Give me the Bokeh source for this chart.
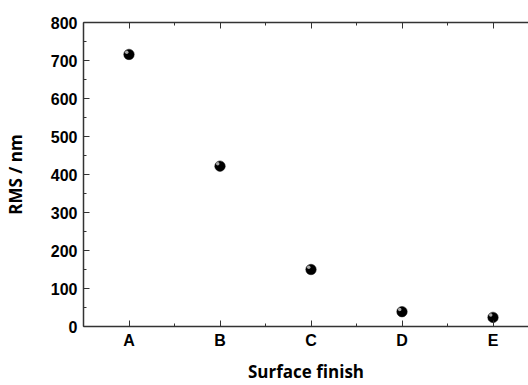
from bokeh.plotting import figure
from bokeh.models import Range1d, FixedTicker, LinearAxis
from bokeh.transform import dodge
from bokeh.embed import file_html
from bokeh.resources import INLINE

categories = ["A", "B", "C", "D", "E"]
rms = [716, 422, 150, 39, 24]
y_ticks = [0, 100, 200, 300, 400, 500, 600, 700, 800]

xs = list(range(1, len(categories) + 1))

p = figure(width=528, height=385, output_backend="svg", toolbar_location=None,
           x_range=Range1d(0.5, 5.39), y_range=Range1d(0, 800),
           x_axis_location=None, y_axis_location=None,
           min_border_left=83, min_border_right=0, min_border_top=22, min_border_bottom=55)
p.grid.visible = False
p.outline_line_color = None
p.background_fill_color = "white"

tick_font = "Liberation Sans"
axis_col = "#333333"
minor_x = [x - 0.5 for x in xs] + [5.5]

xb = LinearAxis(ticker=FixedTicker(ticks=xs, minor_ticks=minor_x),
                major_label_overrides={x: c for x, c in zip(xs, categories)})
xt = LinearAxis(ticker=FixedTicker(ticks=xs, minor_ticks=minor_x),
                major_label_overrides={x: "" for x in xs})
yl = LinearAxis(ticker=FixedTicker(ticks=y_ticks, minor_ticks=[t + 50 for t in y_ticks[:-1]]))

for ax in (xb, xt, yl):
    ax.axis_line_color = axis_col
    ax.axis_line_width = 1.5
    ax.major_tick_line_color = axis_col
    ax.minor_tick_line_color = axis_col
    ax.major_tick_in = 6
    ax.major_tick_out = 0
    ax.minor_tick_in = 3
    ax.minor_tick_out = 0
    ax.major_label_text_font = tick_font
    ax.major_label_text_font_style = "bold"
    ax.major_label_text_font_size = "16px"
    ax.major_label_text_color = "black"
    ax.major_label_standoff = 6

xt.major_label_standoff = 0
xb.major_label_standoff = 5

xb.axis_label = "Surface finish"
yl.axis_label = "RMS / nm"
for ax in (xb, yl):
    ax.axis_label_text_font = "Open Sans"
    ax.axis_label_text_font_style = "bold"
    ax.axis_label_text_font_size = "17px"
    ax.axis_label_text_color = "black"
xb.axis_label_standoff = 8
yl.axis_label_standoff = 21

p.add_layout(xb, "below")
p.add_layout(xt, "above")
p.add_layout(yl, "left")

src = dict(x=xs, y=rms)
p.scatter(x="x", y="y", source=src, size=10.5, fill_color="black", line_color="#111111", line_width=0.5)
p.scatter(x=dodge("x", -0.025, range=p.x_range), y=dodge("y", 6, range=p.y_range), source=src,
          size=3.5, fill_color="#bbbbbb", line_color=None, fill_alpha=0.9)

open("out.html", "w").write(file_html(p, INLINE))
